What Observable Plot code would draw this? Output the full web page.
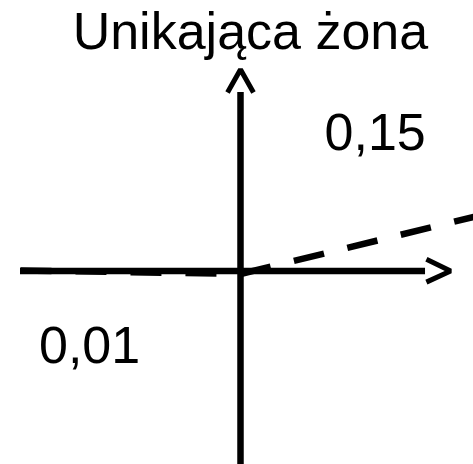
<!DOCTYPE html>
<html>
<head>
<meta charset="utf-8">
<script src="https://cdn.jsdelivr.net/npm/d3@7"></script>
<script src="https://cdn.jsdelivr.net/npm/@observablehq/plot@0.6"></script>
<style>
  html, body { margin: 0; padding: 0; background: #fff; }
  #chart svg { display: block; }
</style>
</head>
<body>
<div id="chart"></div>
<script>
// Title
const title = "Unikająca żona";

// Dashed payoff line (x in strategy units, y in payoff units)
const lineX = [-1, 0, 1.1];
const lineY = [0.01, 0, 0.165];

// Slope labels
const labelText = ["0,15", "0,01"];
const labelX = [0.382, -0.916];
const labelY = [0.3357, -0.2549];

// Axis extents
const xAxisStart = -1;
const xAxisEnd = 0.841;
const yAxisStart = -0.6;
const yAxisEnd = 0.497;

// Arrowheads
const xArrowX = [0.845, 0.955, 0.845];
const xArrowY = [0.033, 0, -0.031];
const yArrowX = [-0.059, 0, 0.059];
const yArrowY = [0.497, 0.561, 0.497];

const titleX = [0.045];
const titleY = [0.619];

const lineData = lineX.map((x, i) => ({x, y: lineY[i]}));
const labels = labelText.map((t, i) => ({t, x: labelX[i], y: labelY[i]}));
const xArrow = xArrowX.map((x, i) => ({x, y: xArrowY[i]}));
const yArrow = yArrowX.map((x, i) => ({x, y: yArrowY[i]}));

const K = 359; // px per y unit
const chart = Plot.plot({
  width: 473,
  height: 464,
  margin: 0,
  style: {background: "#fff", fontFamily: "'Liberation Sans', Arial, sans-serif"},
  x: {domain: [-1, 1], range: [20, 460], axis: null},
  y: {domain: [0, 0.15], range: [270.5, 270.5 - 0.15 * K], axis: null},
  marks: [
    Plot.ruleY([0], {x1: xAxisStart, x2: xAxisEnd, stroke: "#000", strokeWidth: 6.5}),
    Plot.ruleX([0], {y1: yAxisStart, y2: yAxisEnd, stroke: "#000", strokeWidth: 6.5}),
    Plot.line(xArrow, {x: "x", y: "y", stroke: "#000", strokeWidth: 5, strokeLinejoin: "miter", strokeLinecap: "butt"}),
    Plot.line(yArrow, {x: "x", y: "y", stroke: "#000", strokeWidth: 5, strokeLinejoin: "miter", strokeLinecap: "butt"}),
    Plot.line(lineData, {x: "x", y: "y", dy: 3, stroke: "#000", strokeWidth: 6.5, strokeDasharray: "31,24", strokeLinecap: "butt", strokeLinejoin: "miter"}),
    Plot.text(labels, {x: "x", y: "y", text: "t", textAnchor: "start", lineAnchor: "bottom", fontSize: 52, fill: "#000"}),
    Plot.text([title], {x: () => titleX[0], y: () => titleY[0], text: d => d, textAnchor: "middle", lineAnchor: "bottom", fontSize: 52, fill: "#000"})
  ]
});
document.getElementById("chart").appendChild(chart);
</script>
</body>
</html>
